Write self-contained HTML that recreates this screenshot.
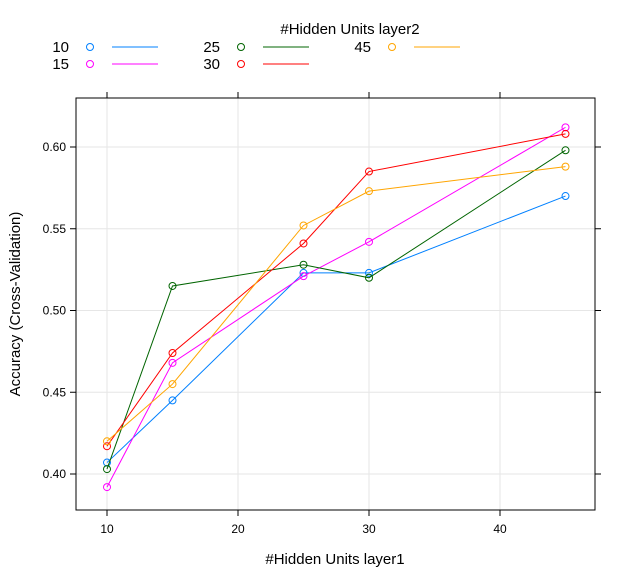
<!DOCTYPE html>
<html><head><meta charset="utf-8"><style>
body{margin:0;background:#fff;font-family:"Liberation Sans",sans-serif}
</style></head><body>
<svg id="chart" width="634" height="580" xmlns="http://www.w3.org/2000/svg" font-family="Liberation Sans, sans-serif">
<g id="grid"></g>
<g id="series"></g>
<rect x="76" y="98" width="519" height="412" fill="none" stroke="#000" stroke-width="1"/>
<g id="axes"></g>
<text x="335" y="564" font-size="15" text-anchor="middle">#Hidden Units layer1</text>
<text transform="translate(20,304) rotate(-90)" font-size="15" text-anchor="middle">Accuracy (Cross-Validation)</text>
<text x="350" y="34" font-size="15" text-anchor="middle">#Hidden Units layer2</text>
<g id="legend"></g>
</svg>
<script>
const xCats=[10,15,25,30,45];
const seriesNames=["10","15","25","30","45"];
const seriesColors=["#0080ff","#ff00ff","#006400","#ff0000","#ffa500"];
const s10=[0.407,0.445,0.523,0.523,0.570];
const s15=[0.392,0.468,0.521,0.542,0.612];
const s25=[0.403,0.515,0.528,0.520,0.598];
const s30=[0.417,0.474,0.541,0.585,0.608];
const s45=[0.420,0.455,0.552,0.573,0.588];
const xTicks=[10,20,30,40];
const yTicks=[0.40,0.45,0.50,0.55,0.60];
const yTickLabels=["0.40","0.45","0.50","0.55","0.60"];
const allSeries=[s10,s15,s25,s30,s45];
const NS="http://www.w3.org/2000/svg";
const X=v=>107+(v-10)*13.1;
const Y=v=>474-(v-0.40)*1635;
function mk(tag,attrs,parent){const e=document.createElementNS(NS,tag);for(const k in attrs)e.setAttribute(k,attrs[k]);parent.appendChild(e);return e;}
const grid=document.getElementById('grid'),axes=document.getElementById('axes'),ser=document.getElementById('series'),leg=document.getElementById('legend');
xTicks.forEach(t=>{
 const g=mk('line',{x1:X(t),x2:X(t),y1:98,y2:510,stroke:'#e6e6e6'},grid);
 
 
 [[510,516],[92,98]].forEach(p=>{const l=mk('line',{x1:X(t),x2:X(t),y1:p[0],y2:p[1],stroke:'#000'},axes);
 
 });
 const tx=mk('text',{x:X(t),y:533,'font-size':12,'text-anchor':'middle'},axes);tx.textContent=t;
 
 
});
yTicks.forEach((t,i)=>{
 const g=mk('line',{x1:76,x2:595,y1:Y(t),y2:Y(t),stroke:'#e6e6e6'},grid);
 
 
 [[70,76],[595,601]].forEach(p=>{const l=mk('line',{x1:p[0],x2:p[1],y1:Y(t),y2:Y(t),stroke:'#000'},axes);
 
 });
 const tx=mk('text',{x:66,y:Y(t)+4,'font-size':12,'text-anchor':'end'},axes);tx.textContent=yTickLabels[i];
 
 
});
allSeries.forEach((s,si)=>{
 const c=seriesColors[si];
 const pl=mk('polyline',{points:s.map((v,i)=>X(xCats[i])+','+Y(v)).join(' '),fill:'none',stroke:c,'stroke-width':1},ser);
 
 
 s.forEach((v,i)=>{const p=mk('circle',{cx:X(xCats[i]),cy:Y(v),r:3.5,fill:'none',stroke:c},ser);
 
 });
});
const legPos=[[0,47],[0,64],[151,47],[151,64],[302,47]];
seriesNames.forEach((n,i)=>{
 const [dx,y]=legPos[i];
 const g=mk('g',{},leg);
 
 
 const t=mk('text',{x:69+dx,y:y+5,'font-size':15,'text-anchor':'end'},g);t.textContent=n;
 mk('circle',{cx:90+dx,cy:y,r:3.5,fill:'none',stroke:seriesColors[i]},g);
 mk('line',{x1:112+dx,x2:158+dx,y1:y,y2:y,stroke:seriesColors[i]},g);
});
</script>
</body></html>
